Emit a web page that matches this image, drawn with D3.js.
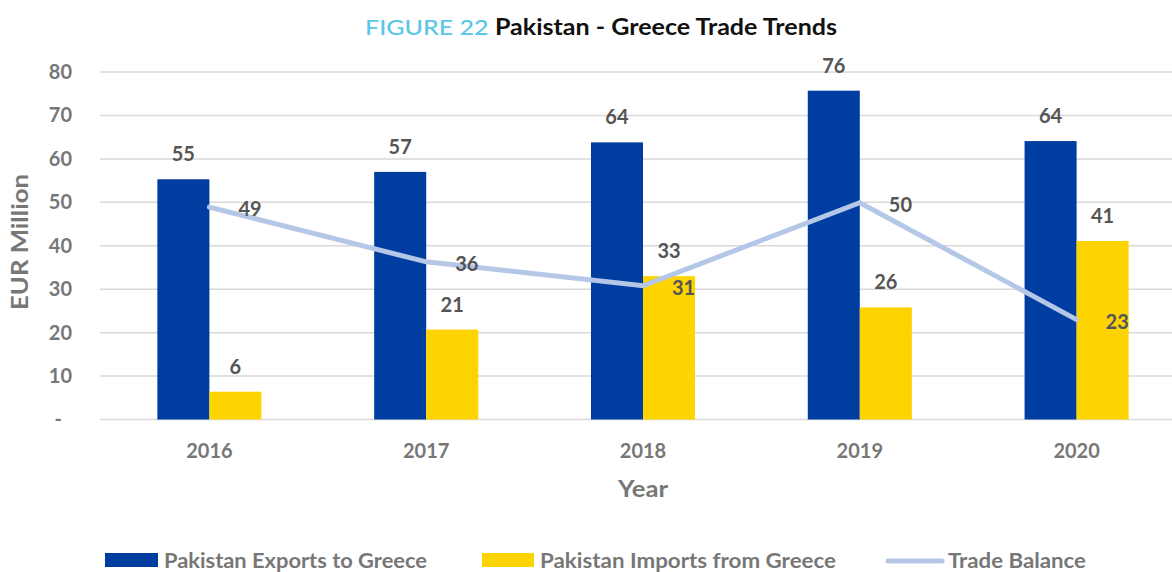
<!DOCTYPE html>
<html>
<head>
<meta charset="utf-8">
<script src="https://cdn.jsdelivr.net/npm/d3@7"></script>
<style>
  html, body { margin: 0; padding: 0; background: #fff; }
  svg { display: block; }
  text { font-family: Lato, "Open Sans", sans-serif; }
</style>
</head>
<body>
<svg id="chart" width="1172" height="572"></svg>
<script>
// ---- data ----
const years = ["2016", "2017", "2018", "2019", "2020"];
const exportsToGreece = [55.3, 57.0, 63.8, 75.7, 64.1];
const importsFromGreece = [6.4, 20.7, 33.0, 25.8, 41.1];
const tradeBalance = [48.9, 36.3, 30.8, 49.9, 23.0];
const yTicks = [0, 10, 20, 30, 40, 50, 60, 70, 80];
const seriesNames = ["Pakistan Exports to Greece", "Pakistan Imports from Greece", "Trade Balance"];

const COLORS = { exp: "#003da1", imp: "#fdd300", bal: "#b4c7e7", grid: "#d9d9d9", label: "#555555", axis: "#777777" };

const svg = d3.select("#chart");
const plotLeft = 101, plotRight = 1185, plotTop = 72, plotBottom = 419.5;

const x0 = d3.scaleBand().domain(years).range([plotLeft, plotRight]).paddingInner(0.52).paddingOuter(0.26);
const x1 = d3.scaleBand().domain(["exp", "imp"]).range([0, x0.bandwidth()]);
const y = d3.scaleLinear().domain([0, 80]).range([plotBottom, plotTop]);

// title
const title = svg.append("text").attr("x", 365).attr("y", 35).attr("text-anchor", "start")
  .style("font-size", "22px").attr("textLength", 472).attr("lengthAdjust", "spacingAndGlyphs");
title.append("tspan").text("FIGURE 22 ").attr("fill", "#5bc6e8").style("font-weight", 500);
title.append("tspan").text("Pakistan - Greece Trade Trends").attr("fill", "#111").style("font-weight", 700);

// gridlines
svg.append("g").selectAll("line").data(yTicks).join("line")
  .attr("x1", 100).attr("x2", 1172)
  .attr("y1", d => y(d)).attr("y2", d => y(d))
  .attr("stroke", COLORS.grid).attr("stroke-width", 1.5);

// y axis labels
const yAxis = d3.axisLeft(y).tickValues(yTicks).tickSize(0).tickPadding(0)
  .tickFormat(d => d === 0 ? "-" : d);
const gy = svg.append("g").attr("transform", "translate(72,0)").call(yAxis);
gy.select(".domain").remove();
gy.selectAll("text").attr("fill", COLORS.axis).style("font-size", "20px").style("font-weight", 700)
  .style("font-family", "Lato, sans-serif")
  .attr("dx", d => d === 0 ? -10 : 0);

// x axis labels
const xAxis = d3.axisBottom(x0).tickSize(0).tickPadding(0);
const gx = svg.append("g").attr("transform", `translate(0,${plotBottom})`).call(xAxis);
gx.select(".domain").remove();
gx.selectAll("text").attr("fill", COLORS.axis).style("font-size", "20px").style("font-weight", 700)
  .style("font-family", "Lato, sans-serif").attr("dy", 0).attr("y", 38.5);

// axis titles
svg.append("text").attr("x", 643).attr("y", 497).attr("text-anchor", "middle")
  .attr("fill", COLORS.axis).style("font-size", "22px").style("font-weight", 700)
  .attr("textLength", 50).attr("lengthAdjust", "spacingAndGlyphs").text("Year");
svg.append("text").attr("transform", "translate(28,242) rotate(-90)").attr("text-anchor", "middle")
  .attr("fill", COLORS.axis).style("font-size", "22px").style("font-weight", 700)
  .attr("textLength", 136).attr("lengthAdjust", "spacingAndGlyphs").text("EUR Million");

// bars
const rows = years.map((yr, i) => ({ yr, exp: exportsToGreece[i], imp: importsFromGreece[i], bal: tradeBalance[i] }));
const groups = svg.append("g").selectAll("g").data(rows).join("g")
  .attr("transform", d => `translate(${x0(d.yr)},0)`);
groups.selectAll("rect").data(d => [{ k: "exp", v: d.exp }, { k: "imp", v: d.imp }]).join("rect")
  .attr("x", d => x1(d.k)).attr("width", x1.bandwidth())
  .attr("y", d => y(d.v)).attr("height", d => y(0) - y(d.v))
  .attr("fill", d => COLORS[d.k]);
groups.selectAll("text").data(d => [{ k: "exp", v: d.exp }, { k: "imp", v: d.imp }]).join("text")
  .attr("x", d => x1(d.k) + x1.bandwidth() / 2).attr("y", d => y(d.v) - 18)
  .attr("text-anchor", "middle").attr("fill", COLORS.label)
  .style("font-size", "20px").style("font-weight", 700).text(d => Math.round(d.v));

// line
const cx = d => x0(d.yr) + x0.bandwidth() / 2;
svg.append("path").datum(rows)
  .attr("d", d3.line().x(cx).y(d => y(d.bal)))
  .attr("fill", "none").attr("stroke", COLORS.bal).attr("stroke-width", 5).attr("stroke-linecap", "round");
svg.append("g").selectAll("text").data(rows).join("text")
  .attr("x", d => cx(d) + 29).attr("y", d => y(d.bal) + 9)
  .attr("fill", COLORS.label).style("font-size", "20px").style("font-weight", 700)
  .text(d => Math.round(d.bal));

// legend
const legendItems = [
  { name: seriesNames[0], type: "rect", color: COLORS.exp, kx: 105, kw: 53, tx: 164, tw: 263 },
  { name: seriesNames[1], type: "rect", color: COLORS.imp, kx: 482, kw: 52, tx: 540, tw: 296 },
  { name: seriesNames[2], type: "line", color: COLORS.bal, kx: 888, kw: 54, tx: 948, tw: 138 }
];
const lg = svg.append("g");
legendItems.forEach(it => {
  if (it.type === "rect") {
    lg.append("rect").attr("x", it.kx).attr("y", 553).attr("width", it.kw).attr("height", 14).attr("fill", it.color);
  } else {
    lg.append("line").attr("x1", it.kx).attr("x2", it.kx + it.kw).attr("y1", 561).attr("y2", 561)
      .attr("stroke", it.color).attr("stroke-width", 5).attr("stroke-linecap", "round");
  }
  lg.append("text").attr("x", it.tx).attr("y", 568).attr("fill", COLORS.axis)
    .style("font-size", "20px").style("font-weight", 700)
    .attr("textLength", it.tw).attr("lengthAdjust", "spacingAndGlyphs").text(it.name);
});
</script>
</body>
</html>
